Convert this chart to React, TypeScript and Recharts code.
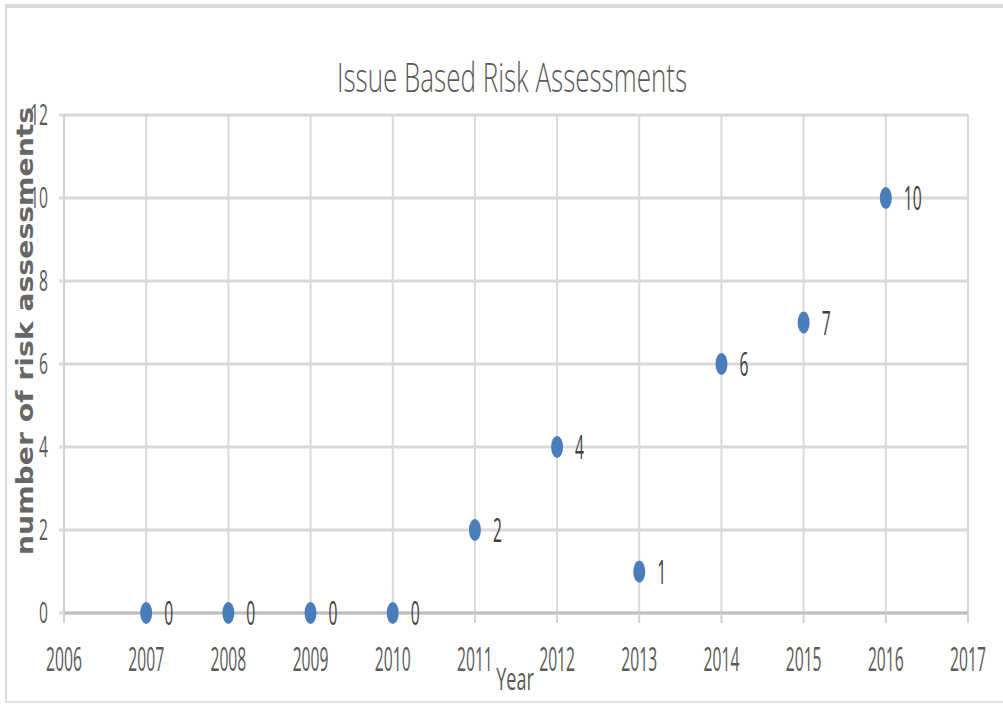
import React from "react";
import { ScatterChart, Scatter, XAxis, YAxis, CartesianGrid } from "recharts";

const years = [2007, 2008, 2009, 2010, 2011, 2012, 2013, 2014, 2015, 2016];
const counts = [0, 0, 0, 0, 2, 4, 1, 6, 7, 10];
const xTicks = [2006, 2007, 2008, 2009, 2010, 2011, 2012, 2013, 2014, 2015, 2016, 2017];
const yTicks = [0, 2, 4, 6, 8, 10, 12];
const title = "Issue Based Risk Assessments";
const xLabel = "Year";
const yLabel = "number of risk assessments";

const data = years.map((x, i) => ({ x, y: counts[i] }));

const FONT = "'Open Sans', 'Liberation Sans', sans-serif";

function SText(props: any) {
  const { x, y, sx = 1, sy = 1, size = 18, anchor = "start", fill = "#595959", weight = 400, family = FONT, rotate = 0, children } = props;
  const rot = rotate ? ` rotate(${rotate})` : "";
  return (
    <text
      transform={`translate(${x},${y})${rot} scale(${sx},${sy})`}
      x={0}
      y={0}
      fontSize={size}
      textAnchor={anchor}
      fill={fill}
      fontWeight={weight}
      fontFamily={family}
    >
      {children}
    </text>
  );
}

const XTick = (props: any) => {
  const { x, y, payload } = props;
  return (
    <SText x={x} y={y + 46} sx={0.87} sy={1.87} size={18} anchor="middle">
      {payload.value}
    </SText>
  );
};

const YTick = (props: any) => {
  const { x, y, payload } = props;
  return (
    <SText x={x - 9} y={y + 10} sx={0.87} sy={1.65} size={18} anchor="end">
      {payload.value}
    </SText>
  );
};

const YearLabel = (props: any) => {
  const vb = props.viewBox || { x: 64, y: 613, width: 904 };
  return (
    <SText x={vb.x + vb.width / 2 - 1} y={vb.y + 77} sx={1} sy={1.7} size={18} anchor="middle">
      {xLabel}
    </SText>
  );
};

const YLabelC = (props: any) => {
  const vb = props.viewBox || { x: 0, y: 115 };
  return (
    <SText
      x={33}
      y={vb.y + 216}
      rotate={-90}
      sx={1.23}
      sy={1}
      size={23}
      anchor="middle"
      weight={700}
      fill="#666666"
      family="'DejaVu Sans', sans-serif"
    >
      {yLabel}
    </SText>
  );
};

const Dot = (props: any) => {
  const { cx, cy, payload } = props;
  return (
    <g>
      <ellipse cx={cx} cy={cy} rx={6} ry={11} fill="#4a7ebb" />
      <SText x={cx + 18} y={cy + 12} sx={0.87} sy={1.85} size={18} fill="#404040">
        {payload.y}
      </SText>
    </g>
  );
};

export default function App() {
  return (
    <div style={{ position: "absolute", left: 0, top: 0, width: 1003, height: 705, background: "#fff", overflow: "hidden" }}>
      <div style={{ position: "absolute", left: 5, top: 4, width: 1003, height: 4, background: "#d9d9d9" }} />
      <div style={{ position: "absolute", left: 5, top: 4, width: 2, height: 699, background: "#d9d9d9" }} />
      <div style={{ position: "absolute", left: 5, top: 701, width: 1003, height: 2, background: "#e3e3e3" }} />
      <svg style={{ position: "absolute", left: 0, top: 0 }} width={1003} height={705}>
        <SText x={512} y={92} sx={1.0} sy={1.56} size={26} anchor="middle" fill="#595959" weight={300}>
          {title}
        </SText>
      </svg>
      <div style={{ position: "absolute", left: 0, top: 0 }}>
        <ScatterChart width={1003} height={705} margin={{ top: 115, right: 35, bottom: 0, left: 0 }}>
          <CartesianGrid horizontal={true} vertical={false} stroke="#d9d9d9" strokeWidth={3} />
          <CartesianGrid horizontal={false} vertical={true} stroke="#d9d9d9" strokeWidth={2} />
          <XAxis
            type="number"
            dataKey="x"
            domain={[2006, 2017]}
            ticks={xTicks}
            interval={0}
            height={92}
            axisLine={{ stroke: "#bfbfbf", strokeWidth: 3 }}
            tickLine={{ stroke: "#d0d0d0", strokeWidth: 2 }}
            tickSize={10}
            tick={XTick}
            label={{ content: YearLabel }}
          />
          <YAxis
            type="number"
            dataKey="y"
            domain={[0, 12]}
            ticks={yTicks}
            interval={0}
            width={64}
            axisLine={{ stroke: "#d0d0d0", strokeWidth: 2 }}
            tickLine={{ stroke: "#d9d9d9", strokeWidth: 3 }}
            tickSize={5}
            tick={YTick}
            label={{ content: YLabelC }}
          />
          <Scatter data={data} shape={Dot} isAnimationActive={false} />
        </ScatterChart>
      </div>
    </div>
  );
}
